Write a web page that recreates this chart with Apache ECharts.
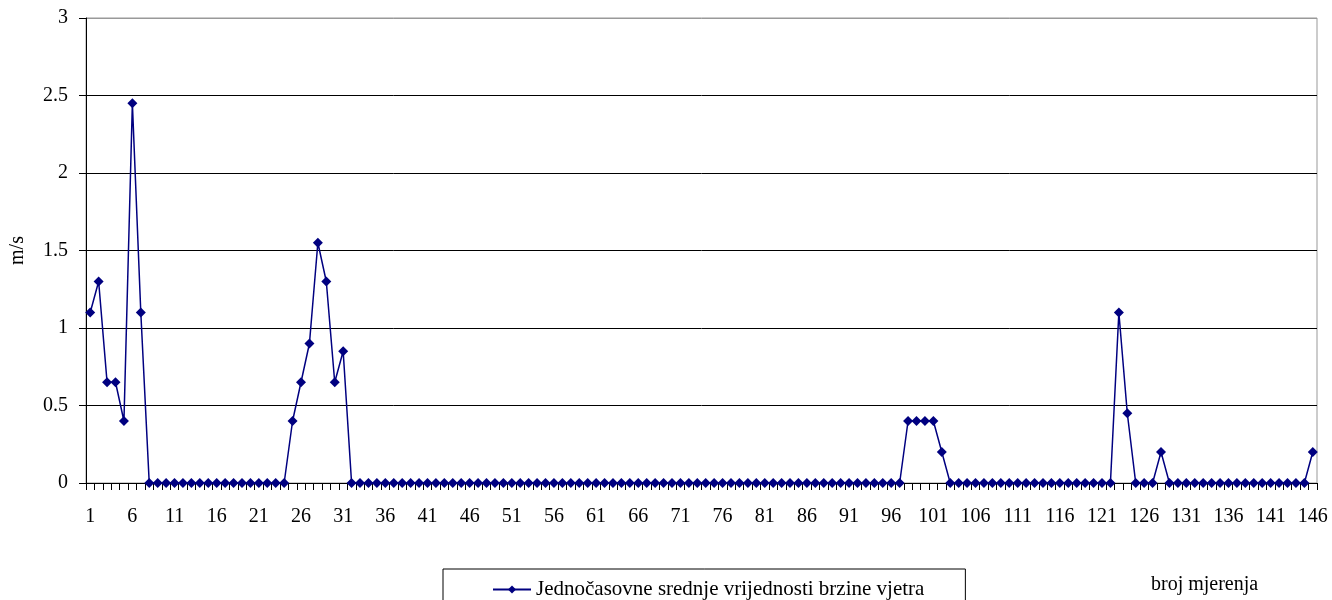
<!DOCTYPE html>
<html>
<head>
<meta charset="utf-8">
<script src="https://cdn.jsdelivr.net/npm/echarts@6/dist/echarts.min.js"></script>
<style>html,body{margin:0;padding:0;background:#fff;}#c{width:1332px;height:600px;}</style>
</head>
<body>
<div id="c"></div>
<script>
const seriesName = 'Jednočasovne srednje vrijednosti brzine vjetra';
const xName = 'broj mjerenja';
const yName = 'm/s';
const yTicks = [0, 0.5, 1, 1.5, 2, 2.5, 3];
// measurement numbers 1..146
const categories = [];
for (let i = 1; i <= 146; i++) categories.push(String(i));
// values (m/s)
const v1_31 = [1.1, 1.3, 0.65, 0.65, 0.4, 2.45, 1.1, 0, 0, 0, 0, 0, 0, 0, 0, 0, 0, 0, 0, 0, 0, 0, 0, 0, 0.4, 0.65, 0.9, 1.55, 1.3, 0.65, 0.85];
const v32_97 = [0,0,0,0,0,0,0,0,0,0, 0,0,0,0,0,0,0,0,0,0, 0,0,0,0,0,0,0,0,0,0, 0,0,0,0,0,0,0,0,0,0, 0,0,0,0,0,0,0,0,0,0, 0,0,0,0,0,0,0,0,0,0, 0,0,0,0,0,0];
const v98_122 = [0.4, 0.4, 0.4, 0.4, 0.2, 0,0,0,0,0, 0,0,0,0,0, 0,0,0,0,0, 0,0,0,0,0];
const v123_146 = [1.1, 0.45, 0, 0, 0, 0.2, 0,0,0,0,0, 0,0,0,0,0, 0,0,0,0,0, 0,0, 0.2];
const values = v1_31.concat(v32_97, v98_122, v123_146);

const font = 'Liberation Serif, Times New Roman, serif';
const chart = echarts.init(document.getElementById('c'), null, {renderer: 'canvas'});
chart.setOption({
  animation: false,
  backgroundColor: '#fff',
  textStyle: {fontFamily: font},
  grid: {left: 85, right: 15, top: 18, bottom: 117, show: true, borderColor: '#999', borderWidth: 1},
  legend: {
    data: [seriesName],
    left: 443, top: 569,
    padding: [10, 41, 12, 49],
    borderColor: '#000', borderWidth: 1,
    itemWidth: 38, itemHeight: 10, itemGap: 0,
    textStyle: {fontFamily: font, fontSize: 21, color: '#000'}
  },
  graphic: [{
    type: 'text', left: 1151, top: 575,
    style: {text: xName, fontFamily: font, fontSize: 20, fill: '#000'}
  }],
  xAxis: {
    type: 'category',
    data: categories,
    boundaryGap: true,
    axisLine: {lineStyle: {color: '#000', width: 1}},
    axisTick: {show: true, interval: 0, length: 7, lineStyle: {color: '#000'}},
    axisLabel: {interval: 4, margin: 24, fontFamily: font, fontSize: 20, color: '#000'},
    splitLine: {show: false}
  },
  yAxis: {
    type: 'value',
    min: yTicks[0], max: yTicks[yTicks.length - 1], interval: 0.5,
    name: yName, nameLocation: 'middle', nameGap: 58, nameRotate: 90,
    nameTextStyle: {fontFamily: font, fontSize: 20, color: '#000'},
    axisLine: {show: true, lineStyle: {color: '#000', width: 1}},
    axisTick: {show: true, length: 7, lineStyle: {color: '#000'}},
    axisLabel: {margin: 18, fontFamily: font, fontSize: 20, color: '#000'},
    splitLine: {show: true, lineStyle: {color: ['#000','#000','#000','#000','#000','#000','#999'], width: 1}}
  },
  series: [{
    name: seriesName,
    type: 'line',
    data: values,
    symbol: 'diamond',
    symbolSize: 10,
    showAllSymbol: true,
    lineStyle: {color: '#000080', width: 1.5},
    itemStyle: {color: '#000080'},
    emphasis: {disabled: true}
  }]
});
</script>
</body>
</html>
